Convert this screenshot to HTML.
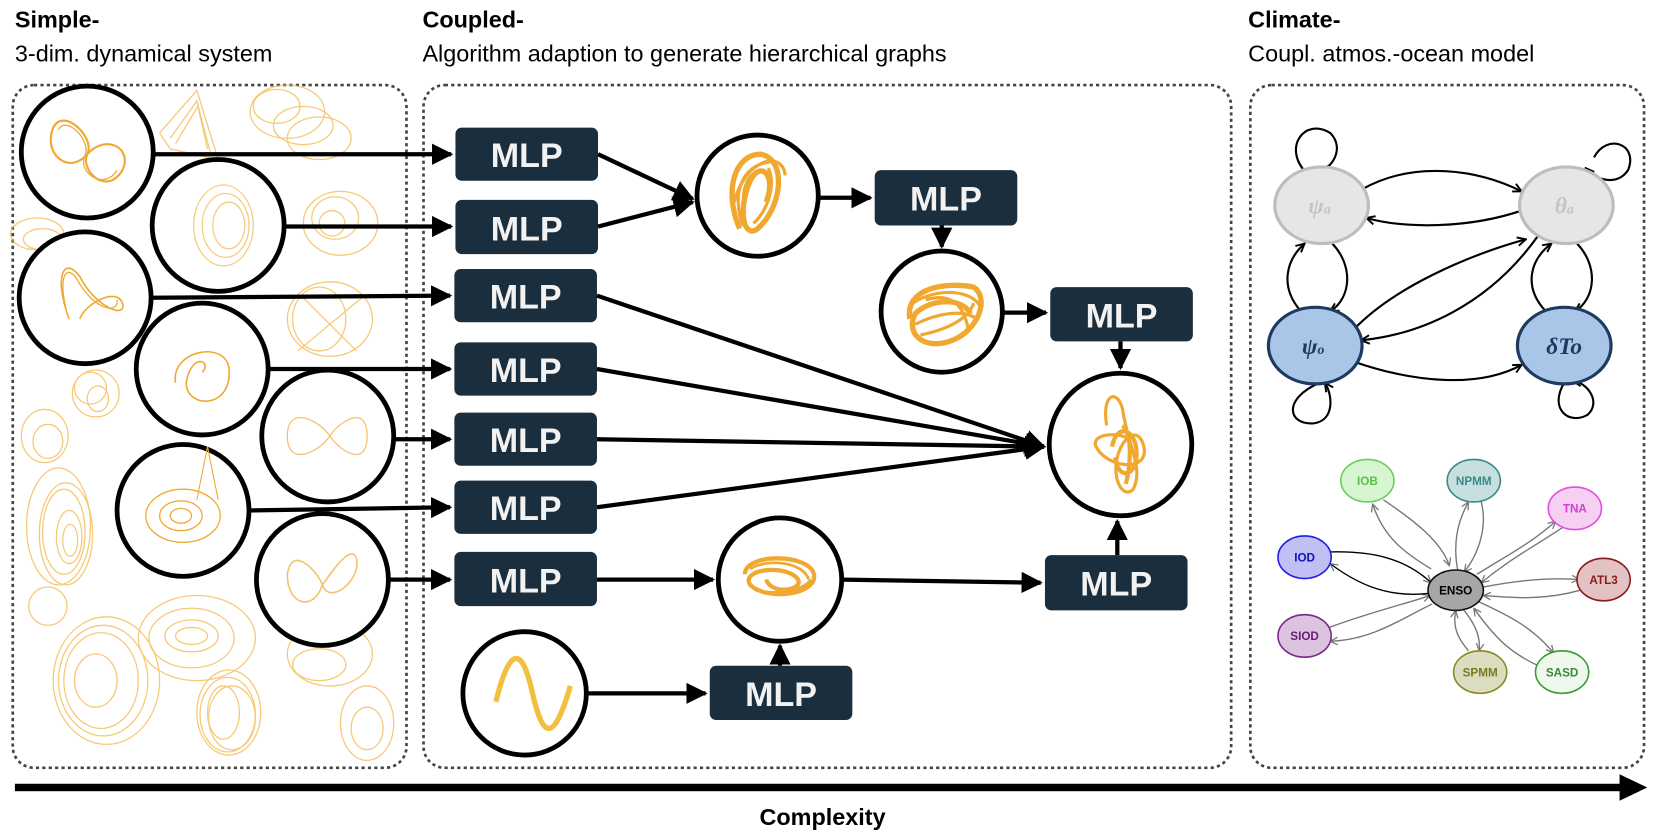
<!DOCTYPE html>
<html><head><meta charset="utf-8"><style>
html,body{margin:0;padding:0;background:#fff;}
svg{display:block;}
.t{font-family:"Liberation Sans",sans-serif;}
.mlp{fill:#1b2e3d;}
.ml{font-family:"Liberation Sans",sans-serif;font-weight:bold;font-size:32px;fill:#f2f2f2;text-anchor:middle;}
.c{fill:#fff;stroke:#000;stroke-width:4.5;}
.a{stroke:#000;stroke-width:4;fill:none;marker-end:url(#ah);}
.o{fill:none;stroke:#f0a830;}
.bg{fill:none;stroke:#f3b848;stroke-width:1.2;opacity:.75;}
</style></head><body>
<svg width="1660" height="838" viewBox="0 0 1560 788" preserveAspectRatio="none" xmlns="http://www.w3.org/2000/svg">
<defs>
<marker id="ah" markerWidth="5" markerHeight="5" refX="4.5" refY="2.5" orient="auto" markerUnits="strokeWidth"><path d="M0,0 L5,2.5 L0,5 z" fill="#000"/></marker>
<marker id="ah2" markerWidth="10" markerHeight="10" refX="9" refY="5" orient="auto" markerUnits="userSpaceOnUse"><path d="M1,1 L9,5 L1,9" fill="none" stroke="#000" stroke-width="1.8"/></marker>
<marker id="ah3" markerWidth="9" markerHeight="9" refX="8" refY="4.5" orient="auto" markerUnits="userSpaceOnUse"><path d="M1,1 L8,4.5 L1,8" fill="none" stroke="#777" stroke-width="1.2"/></marker>
</defs>
<text class="t" x="14" y="26" font-size="22" font-weight="bold">Simple-</text>
<text class="t" x="14" y="58" font-size="22">3-dim. dynamical system</text>
<text class="t" x="397" y="26" font-size="22" font-weight="bold">Coupled-</text>
<text class="t" x="397" y="58" font-size="22">Algorithm adaption to generate hierarchical graphs</text>
<text class="t" x="1173" y="26" font-size="22" font-weight="bold">Climate-</text>
<text class="t" x="1173" y="58" font-size="22">Coupl. atmos.-ocean model</text>
<g fill="none" stroke="#444" stroke-width="2.5" stroke-dasharray="3,3">
<rect x="12" y="80" width="370" height="642" rx="20"/>
<rect x="398" y="80" width="759" height="642" rx="20"/>
<rect x="1175" y="80" width="370" height="642" rx="20"/>
</g>
<g class="bg">
<path d="M150,125 L185,85 L205,150 L160,140 Z M160,130 L185,95 L198,145 M165,135 L186,100 L195,140"/>
<ellipse cx="270" cy="105" rx="35" ry="25"/><ellipse cx="300" cy="130" rx="30" ry="20"/><ellipse cx="260" cy="100" rx="22" ry="16"/><ellipse cx="285" cy="118" rx="28" ry="18"/>
<ellipse cx="320" cy="210" rx="35" ry="30"/><ellipse cx="315" cy="205" rx="22" ry="20"/><ellipse cx="312" cy="210" rx="12" ry="12"/>
<ellipse cx="310" cy="300" rx="40" ry="35"/><ellipse cx="300" cy="300" rx="25" ry="30"/><path d="M280,330 L340,280 M285,280 L335,330"/>
<ellipse cx="35" cy="220" rx="25" ry="15"/><ellipse cx="40" cy="225" rx="18" ry="10"/>
<ellipse cx="90" cy="370" rx="22" ry="22"/><ellipse cx="85" cy="365" rx="15" ry="15"/><ellipse cx="92" cy="375" rx="10" ry="12"/>
<ellipse cx="42" cy="410" rx="22" ry="25"/><ellipse cx="45" cy="415" rx="14" ry="16"/>
<ellipse cx="55" cy="495" rx="30" ry="55"/><ellipse cx="60" cy="500" rx="20" ry="40"/><ellipse cx="65" cy="505" rx="12" ry="25"/><ellipse cx="62" cy="502" rx="25" ry="48"/><ellipse cx="66" cy="508" rx="7" ry="15"/>
<ellipse cx="45" cy="570" rx="18" ry="18"/>
<ellipse cx="100" cy="640" rx="50" ry="60"/><ellipse cx="95" cy="640" rx="35" ry="45"/><ellipse cx="90" cy="640" rx="20" ry="25"/><ellipse cx="97" cy="640" rx="42" ry="52"/>
<ellipse cx="185" cy="600" rx="55" ry="40"/><ellipse cx="180" cy="598" rx="25" ry="15"/><ellipse cx="180" cy="598" rx="15" ry="8"/><ellipse cx="180" cy="600" rx="40" ry="28"/>
<ellipse cx="215" cy="670" rx="30" ry="40"/><ellipse cx="218" cy="675" rx="22" ry="30"/><ellipse cx="210" cy="670" rx="15" ry="25"/><ellipse cx="214" cy="672" rx="26" ry="35"/>
<ellipse cx="310" cy="615" rx="40" ry="30"/><ellipse cx="300" cy="625" rx="25" ry="15"/>
<ellipse cx="345" cy="680" rx="25" ry="35"/><ellipse cx="345" cy="685" rx="15" ry="20"/>
</g>
<g>
<circle class="c" cx="82" cy="143" r="62"/><path class="o" stroke-width="2" d="M50,120 C60,100 90,130 82,145 C75,160 100,185 115,160 C125,140 100,125 82,145 C65,165 40,145 50,120Z"/><path class="o" stroke-width="1.2" d="M55,122 C62,108 86,132 80,146 C72,162 98,180 110,160"/>
<circle class="c" cx="205" cy="212" r="62"/><ellipse class="o" cx="210" cy="212" rx="28" ry="38" stroke-width="1.2" opacity=".6"/><ellipse class="o" cx="215" cy="212" rx="15" ry="22" stroke-width="1.2" opacity=".6"/><ellipse class="o" cx="212" cy="212" rx="22" ry="30" stroke-width="1.2" opacity=".6"/>
<circle class="c" cx="80" cy="280" r="62"/><path class="o" stroke-width="1.5" d="M65,300 C50,260 60,240 75,260 C90,290 120,300 115,285 C110,270 80,285 75,300"/><path class="o" stroke-width="1.2" d="M62,290 C55,260 62,248 72,262 C88,292 112,296 110,282"/>
<circle class="c" cx="190" cy="347" r="62"/><path class="o" stroke-width="1.5" d="M165,360 C160,330 210,320 215,345 C220,385 175,385 175,360 C180,330 200,340 190,350"/>
<circle class="c" cx="308" cy="410" r="62"/><path class="o" stroke-width="1.2" opacity=".7" d="M270,410 C270,380 300,395 310,410 C320,425 345,440 345,410 C345,380 320,395 310,410 C300,425 270,440 270,410Z"/>
<circle class="c" cx="172" cy="480" r="62"/><ellipse class="o" cx="172" cy="485" rx="35" ry="25" stroke-width="1.2"/><ellipse class="o" cx="170" cy="485" rx="20" ry="14" stroke-width="1.2"/><ellipse class="o" cx="170" cy="485" rx="10" ry="7" stroke-width="1.2"/><path class="o" d="M185,470 L195,420 L205,470" stroke-width="1"/>
<circle class="c" cx="303" cy="545" r="62"/><path class="o" stroke-width="1.5" opacity=".7" d="M270,540 C275,510 300,540 303,550 C310,570 340,545 335,525 C330,510 310,540 303,550 C295,575 270,570 270,540Z"/>
</g>
<g>
<rect class="mlp" x="428" y="120" width="134" height="50" rx="6"/><text class="ml" x="495" y="157">MLP</text>
<rect class="mlp" x="428" y="188" width="134" height="51" rx="6"/><text class="ml" x="495" y="226">MLP</text>
<rect class="mlp" x="427" y="253" width="134" height="50" rx="6"/><text class="ml" x="494" y="290">MLP</text>
<rect class="mlp" x="427" y="322" width="134" height="50" rx="6"/><text class="ml" x="494" y="359">MLP</text>
<rect class="mlp" x="427" y="388" width="134" height="50" rx="6"/><text class="ml" x="494" y="425">MLP</text>
<rect class="mlp" x="427" y="452" width="134" height="50" rx="6"/><text class="ml" x="494" y="489">MLP</text>
<rect class="mlp" x="427" y="519" width="134" height="51" rx="6"/><text class="ml" x="494" y="557">MLP</text>
<rect class="mlp" x="822" y="160" width="134" height="52" rx="6"/><text class="ml" x="889" y="198">MLP</text>
<rect class="mlp" x="987" y="270" width="134" height="51" rx="6"/><text class="ml" x="1054" y="308">MLP</text>
<rect class="mlp" x="982" y="522" width="134" height="52" rx="6"/><text class="ml" x="1049" y="560">MLP</text>
<rect class="mlp" x="667" y="626" width="134" height="51" rx="6"/><text class="ml" x="734" y="664">MLP</text>
</g>
<g>
<line class="a" x1="144" y1="145" x2="424" y2="145"/>
<line class="a" x1="267" y1="213" x2="424" y2="213"/>
<line class="a" x1="142" y1="280" x2="423" y2="278"/>
<line class="a" x1="252" y1="347" x2="423" y2="347"/>
<line class="a" x1="370" y1="413" x2="423" y2="413"/>
<line class="a" x1="234" y1="480" x2="423" y2="477"/>
<line class="a" x1="365" y1="545" x2="423" y2="545"/>
<line class="a" x1="562" y1="145" x2="651" y2="187"/>
<line class="a" x1="562" y1="213" x2="651" y2="190"/>
<line class="a" x1="769" y1="186" x2="818" y2="186"/>
<line class="a" x1="885" y1="212" x2="885" y2="232"/>
<line class="a" x1="943" y1="294" x2="983" y2="294"/>
<line class="a" x1="1053" y1="321" x2="1053" y2="346"/>
<line class="a" x1="561" y1="278" x2="981" y2="420"/>
<line class="a" x1="561" y1="347" x2="981" y2="420"/>
<line class="a" x1="561" y1="413" x2="981" y2="420"/>
<line class="a" x1="561" y1="477" x2="981" y2="420"/>
<line class="a" x1="561" y1="545" x2="670" y2="545"/>
<line class="a" x1="791" y1="545" x2="978" y2="548"/>
<line class="a" x1="1050" y1="522" x2="1050" y2="490"/>
<line class="a" x1="551" y1="652" x2="663" y2="652"/>
<line class="a" x1="733" y1="626" x2="733" y2="607"/>
</g>
<circle class="c" cx="712" cy="184" r="57"/>
<path class="o" stroke-width="5" d="M695,215 C680,180 690,145 715,145 C740,150 735,195 712,215 C700,225 692,200 705,170 C715,150 730,165 720,190"/>
<path class="o" stroke-width="3" d="M700,200 C695,175 705,160 718,160 M690,190 C700,150 735,140 738,165 M698,212 C688,185 695,155 725,152 M708,210 C720,200 730,175 722,158"/>
<circle class="c" cx="885" cy="293" r="57"/>
<path class="o" stroke-width="5" d="M855,300 C850,270 890,265 915,270 C930,280 920,310 895,320 C870,330 850,315 860,295 C875,280 905,280 912,295"/>
<path class="o" stroke-width="3" d="M858,285 C880,270 915,272 922,290 M865,315 C890,310 910,300 915,285 M860,305 C880,295 905,290 918,300 M870,282 C890,276 905,282 910,310"/>
<circle class="c" cx="1053" cy="418" r="67"/>
<path class="o" stroke-width="3" d="M1040,400 C1035,370 1050,365 1055,385 C1060,420 1075,440 1065,460 C1055,470 1045,450 1050,430 C1055,410 1070,400 1075,420 C1080,445 1040,440 1030,420 C1025,410 1045,405 1060,412"/>
<path class="o" stroke-width="4" d="M1045,420 C1050,395 1070,405 1068,430 C1066,450 1050,450 1048,430 M1055,400 C1065,410 1062,440 1058,455"/>
<circle class="c" cx="733" cy="545" r="58"/>
<path class="o" stroke-width="4" d="M700,540 C700,520 760,520 765,540 C768,560 720,565 705,550 C695,535 740,530 750,545 C755,555 725,560 720,545"/>
<path class="o" stroke-width="2.5" d="M705,535 C720,525 755,528 760,545 M710,555 C730,560 755,555 762,545"/>
<circle class="c" cx="493" cy="652" r="58"/>
<path d="M466,660 C478,610 490,605 500,650 C510,695 520,700 536,645" fill="none" stroke="#f2c040" stroke-width="5"/>
<g>
<path d="M1228,163 C1205,140 1225,110 1250,125 C1265,140 1250,160 1240,160" fill="none" stroke="#000" stroke-width="2" marker-end="url(#ah2)"/>
<path d="M1498,148 C1510,125 1540,135 1530,160 C1520,175 1500,170 1490,158" fill="none" stroke="#000" stroke-width="2" marker-end="url(#ah2)"/>
<path d="M1240,360 C1205,375 1210,400 1235,398 C1255,395 1252,370 1245,360" fill="none" stroke="#000" stroke-width="2" marker-end="url(#ah2)"/>
<path d="M1470,360 C1455,385 1475,400 1492,390 C1505,378 1492,360 1478,358" fill="none" stroke="#000" stroke-width="2" marker-end="url(#ah2)"/>
<path d="M1280,178 C1330,150 1390,160 1430,180" fill="none" stroke="#000" stroke-width="2" marker-end="url(#ah2)"/>
<path d="M1430,198 C1380,215 1320,215 1284,205" fill="none" stroke="#000" stroke-width="2" marker-end="url(#ah2)"/>
<path d="M1222,292 C1203,270 1208,245 1226,229" fill="none" stroke="#000" stroke-width="2" marker-end="url(#ah2)"/>
<path d="M1252,229 C1272,250 1270,280 1250,293" fill="none" stroke="#000" stroke-width="2" marker-end="url(#ah2)"/>
<path d="M1452,292 C1432,270 1437,245 1458,229" fill="none" stroke="#000" stroke-width="2" marker-end="url(#ah2)"/>
<path d="M1482,229 C1502,250 1500,280 1480,293" fill="none" stroke="#000" stroke-width="2" marker-end="url(#ah2)"/>
<path d="M1272,310 C1310,270 1380,240 1434,225" fill="none" stroke="#000" stroke-width="2" marker-end="url(#ah2)"/>
<path d="M1450,215 C1400,290 1330,315 1279,320" fill="none" stroke="#000" stroke-width="2" marker-end="url(#ah2)"/>
<path d="M1272,340 C1330,360 1390,365 1430,343" fill="none" stroke="#000" stroke-width="2" marker-end="url(#ah2)"/>
<ellipse cx="1242" cy="193" rx="44" ry="36" fill="#e6e6e6" stroke="#bdbdbd" stroke-width="3"/>
<ellipse cx="1472" cy="193" rx="44" ry="36" fill="#e6e6e6" stroke="#bdbdbd" stroke-width="3"/>
<ellipse cx="1236" cy="325" rx="44" ry="36" fill="#a9c6e8" stroke="#1f3a5f" stroke-width="3"/>
<ellipse cx="1470" cy="325" rx="44" ry="36" fill="#a9c6e8" stroke="#1f3a5f" stroke-width="3"/>
<g font-family="Liberation Serif,serif" font-weight="bold" font-style="italic" text-anchor="middle">
<text x="1240" y="201" font-size="22" fill="#c4c4c4">ψ<tspan font-size="13">a</tspan></text>
<text x="1470" y="201" font-size="22" fill="#c4c4c4">θ<tspan font-size="13">a</tspan></text>
<text x="1234" y="333" font-size="22" fill="#1f3a5f">ψ<tspan font-size="13">o</tspan></text>
<text x="1470" y="333" font-size="22" fill="#1f3a5f">δTo</text>
</g>
</g>
<g stroke="#777" stroke-width="1.3" fill="none">
<path d="M1300,470 C1330,490 1355,510 1362,532" marker-end="url(#ah3)"/>
<path d="M1345,535 C1320,520 1300,505 1290,474" marker-end="url(#ah3)"/>
<path d="M1370,537 C1365,510 1370,490 1380,472" marker-end="url(#ah3)"/>
<path d="M1392,472 C1398,495 1390,520 1376,538" marker-end="url(#ah3)"/>
<path d="M1388,540 C1420,520 1440,510 1462,490" marker-end="url(#ah3)"/>
<path d="M1470,495 C1440,515 1420,525 1392,548" marker-end="url(#ah3)"/>
<path d="M1394,552 C1430,545 1460,543 1484,545" marker-end="url(#ah3)"/>
<path d="M1485,555 C1450,565 1420,562 1394,560" marker-end="url(#ah3)"/>
<path d="M1390,566 C1420,580 1440,590 1460,614" marker-end="url(#ah3)"/>
<path d="M1450,628 C1420,615 1405,600 1385,572" marker-end="url(#ah3)"/>
<path d="M1375,573 C1385,585 1392,598 1390,612" marker-end="url(#ah3)"/>
<path d="M1380,612 C1370,600 1365,590 1368,574" marker-end="url(#ah3)"/>
<path d="M1249,590 C1290,575 1320,568 1344,560" marker-end="url(#ah3)"/>
<path d="M1346,568 C1320,580 1290,602 1250,603" marker-end="url(#ah3)"/>
<path d="M1250,519 C1290,518 1320,525 1345,548" stroke="#000" marker-end="url(#ah3)"/>
<path d="M1342,558 C1300,563 1270,545 1250,530" stroke="#000" marker-end="url(#ah3)"/>
</g>
<g font-family="Liberation Sans,sans-serif" font-weight="bold" font-size="11" text-anchor="middle">
<ellipse cx="1285" cy="452" rx="25" ry="20" fill="#d6f5d0" stroke="#6ad05a" stroke-width="1.5"/><text x="1285" y="456" fill="#5cbf4a">IOB</text>
<ellipse cx="1385" cy="452" rx="25" ry="20" fill="#c7e0df" stroke="#3a8a8a" stroke-width="1.5"/><text x="1385" y="456" fill="#3a8a8a">NPMM</text>
<ellipse cx="1480" cy="478" rx="25" ry="20" fill="#f5d0f3" stroke="#e050e0" stroke-width="1.5"/><text x="1480" y="482" fill="#d040d0">TNA</text>
<ellipse cx="1507" cy="545" rx="25" ry="20" fill="#e2c2c2" stroke="#8b1a1a" stroke-width="1.5"/><text x="1507" y="549" fill="#8b1a1a">ATL3</text>
<ellipse cx="1468" cy="632" rx="25" ry="20" fill="#eef8ec" stroke="#3a9a3a" stroke-width="1.5"/><text x="1468" y="636" fill="#3a8a3a">SASD</text>
<ellipse cx="1391" cy="632" rx="25" ry="20" fill="#dcdcc0" stroke="#8a8a20" stroke-width="1.5"/><text x="1391" y="636" fill="#7a7a20">SPMM</text>
<ellipse cx="1226" cy="598" rx="25" ry="20" fill="#dcc4e0" stroke="#7a2a8a" stroke-width="1.5"/><text x="1226" y="602" fill="#6a1a7a">SIOD</text>
<ellipse cx="1226" cy="524" rx="25" ry="20" fill="#c0c0f5" stroke="#2020e0" stroke-width="1.5"/><text x="1226" y="528" fill="#1010c0">IOD</text>
<ellipse cx="1368" cy="555" rx="26" ry="19" fill="#a6a6a6" stroke="#111" stroke-width="1.5"/><text x="1368" y="559" fill="#000">ENSO</text>
</g>
<rect x="14" y="737" width="1515" height="7" fill="#000"/>
<path d="M1522,728 L1548,740.5 L1522,753 Z" fill="#000"/>
<text class="t" x="773" y="776" font-size="22" font-weight="bold" text-anchor="middle">Complexity</text>
</svg>
</body></html>
